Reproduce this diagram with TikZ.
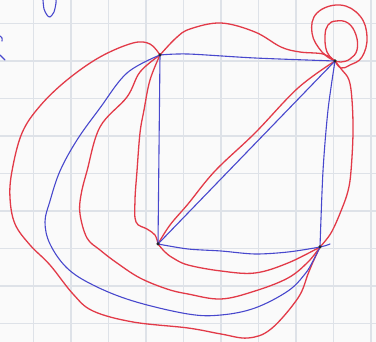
\documentclass[tikz,border=0pt]{standalone}
\definecolor{penred}{RGB}{226,58,72}
\definecolor{penblue}{RGB}{72,72,205}
\definecolor{gridc}{RGB}{222,226,232}
\definecolor{paper}{RGB}{250,250,250}
\tikzset{
  redpen/.style={draw=penred,line width=1.3pt,line cap=round,line join=round},
  bluepen/.style={draw=penblue,line width=1.1pt,line cap=round,line join=round},
  vtx/.style={circle,fill=black!85,inner sep=0pt,minimum size=3.5pt},
  gridline/.style={draw=gridc,line width=1.2pt}
}
\begin{document}
\begin{tikzpicture}[x=1pt,y=-1pt]
\fill[paper] (0,0) rectangle (376,342);
\useasboundingbox (0,0) rectangle (376,342);
% grid
\foreach \gx in {33.5,71,108.5,146,183.5,221,258.5,296,333.5,371}
  \draw[gridline] (\gx,0) -- (\gx,342);
\foreach \gy in {23.5,61,98.5,136,173.5,211,248.5,286,323.5}
  \draw[gridline] (0,\gy) -- (376,\gy);
% vertices
\coordinate (A) at (160,55);
\coordinate (B) at (335,61);
\coordinate (C) at (158,244);
\coordinate (D) at (320,247);
\coordinate (Dt) at (330,244);
% blue scribbles top-left
\draw[bluepen] plot[smooth] coordinates {(43,0) (44,9) (47,15) (50,17) (54,12) (56,3) (56,0)};
\draw[bluepen] plot[smooth] coordinates {(0,36) (2,38) (2,41)};
\draw[bluepen] (0,55) -- (5,60);
% red edges
\draw[redpen] plot[smooth,tension=0.6] coordinates {(A) (150,44) (133,43) (100,57) (67,80) (40,106) (22,133) (12,171) (10,198) (15,224) (30,245) (50,265) (73,294) (93,311) (133,322) (188,328) (221,334) (248,338) (271,329) (298,298) (308,274) (313,262) (D)};
\draw[redpen] plot[smooth,tension=0.6] coordinates {(A) (140,72) (127,97) (100,127) (87,171) (81,195) (80,214) (87,238) (100,250) (117,263) (140,278) (167,289) (188,294) (221,299) (255,291) (288,278) (308,262) (D)};
\draw[redpen] plot[smooth,tension=0.6] coordinates {(A) (150,80) (144,110) (140,133) (137,171) (135,200) (136,222) (147,229) (155,235) (C)};
\draw[redpen] plot[smooth,tension=0.6] coordinates {(C) (165,252) (173,258) (188,265) (221,271) (255,273) (288,263) (D)};
\draw[redpen] plot[smooth,tension=0.6] coordinates {(C) (170,225) (188,204) (215,171) (255,133) (298,88) (B)};
\draw[redpen] plot[smooth,tension=0.6] coordinates {(A) (176,38) (190,29) (221,23) (255,32) (281,47) (300,52) (323,54) (B)};
\draw[redpen] plot[smooth,tension=0.7] coordinates {(B) (327,52) (325,36) (328,25) (336,21) (348,23) (356,35) (357,50) (350,59) (341,62) (B)};
\draw[redpen] plot[smooth,tension=0.7] coordinates {(B) (322,52) (312,33) (317,13) (340,5) (360,16) (367,37) (362,57) (350,65) (341,68) (B)};
\draw[redpen] plot[smooth,tension=0.6] coordinates {(B) (342,70) (349,80) (352,100) (353,133) (351,171) (348,191) (341,211) (331,233) (D)};
% blue edges
\draw[bluepen] plot[smooth,tension=0.5] coordinates {(A) (188,54) (255,58) (B)};
\draw[bluepen] (A) -- (C);
\draw[bluepen] (C) -- (B);
\draw[bluepen] plot[smooth,tension=0.5] coordinates {(B) (328,110) (323,171) (D)};
\draw[bluepen] plot[smooth,tension=0.5] coordinates {(C) (188,249) (221,251) (255,254) (288,252) (D) (Dt)};
\draw[bluepen] plot[smooth,tension=0.6] coordinates {(A) (127,73) (100,108) (77,140) (60,171) (50,201) (45,222) (50,244) (67,268) (93,285) (133,301) (188,314) (221,315) (255,308) (288,291) (305,274) (313,261) (D)};
% vertex dots
\node[vtx] (nA) at (A) {};
\node[vtx] (nB) at (B) {};
\node[vtx] (nC) at (C) {};
\node[vtx] (nD) at (D) {};
\end{tikzpicture}
\end{document}
